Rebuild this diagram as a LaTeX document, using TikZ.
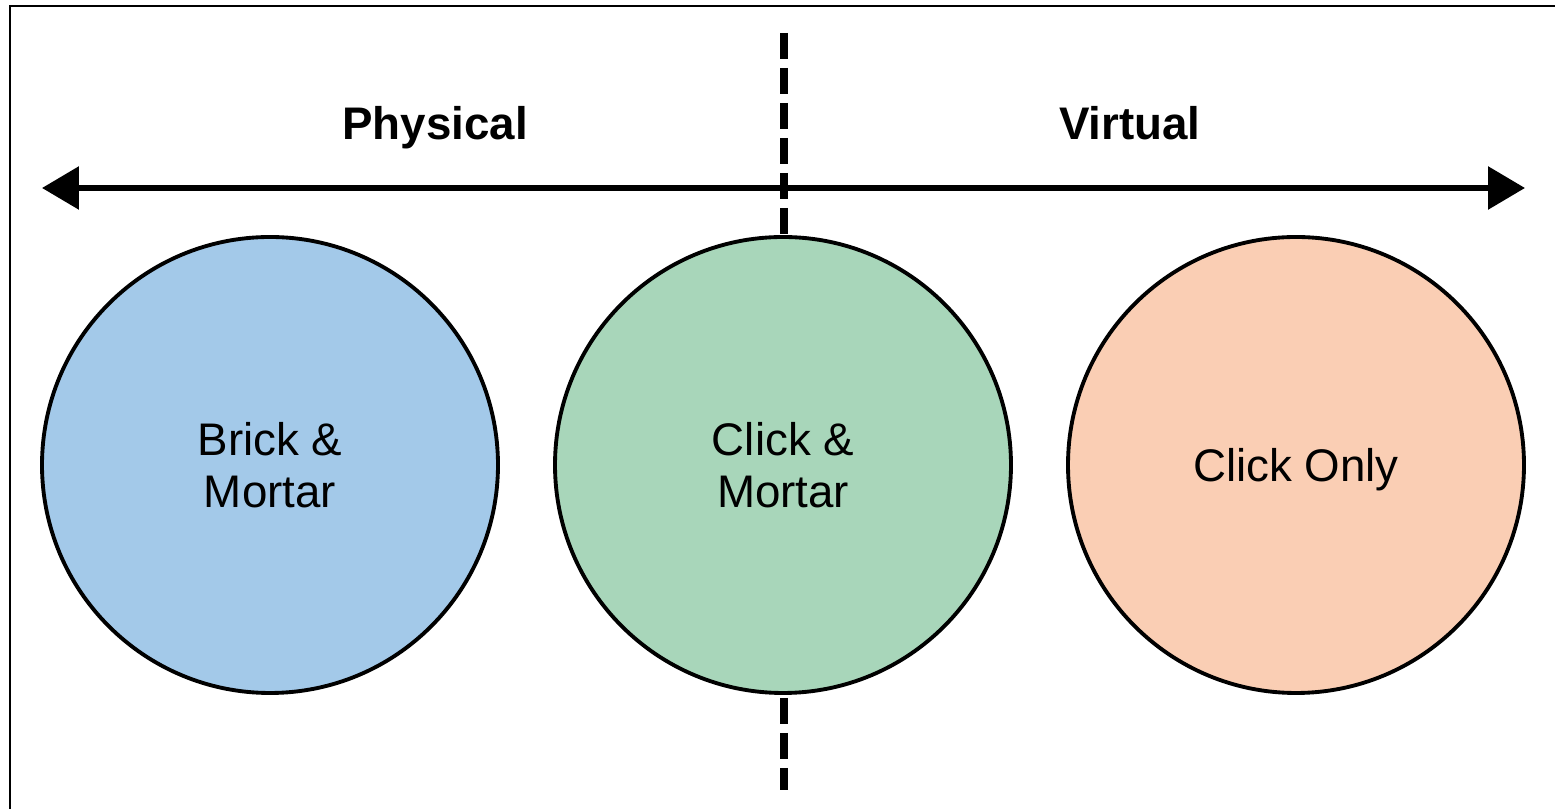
\documentclass[tikz,border=0pt]{standalone}
\usepackage{fontspec}
\setmainfont{Liberation Sans}
\usetikzlibrary{arrows.meta}
\definecolor{brickblue}{RGB}{163,201,233}
\definecolor{clickgreen}{RGB}{168,214,186}
\definecolor{onlypeach}{RGB}{250,206,180}
\tikzset{
  channel/.style={circle,draw,line width=1.1pt,minimum size=4.56cm,inner sep=0pt,
    align=center,text depth=0pt,font=\fontsize{13}{14.9}\selectfont},
  side/.style={anchor=base,font=\fontsize{13}{15}\selectfont\bfseries}
}

\begin{document}
\begin{tikzpicture}
\useasboundingbox
  (0,0) rectangle (15.55,-8.09);
\draw[line width=0.6pt]
  (0.10,-8.09) -- (0.10,-0.06) -- (15.55,-0.06);
\coordinate (L) at (0.42,-1.88);
\coordinate (R) at (15.25,-1.88);
\coordinate (top) at (7.84,-0.33);
\coordinate (bot) at (7.84,-7.90);
\draw[line width=2pt,dash pattern=on 0.26cm off 0.09cm]
  (top) -- (bot);
\draw[{Triangle[length=0.37cm,width=0.42cm]}-{Triangle[length=0.37cm,width=0.42cm]},line width=1.7pt]
  (L) -- (R);
\node[side] (phys) at (4.35,-1.40) {Physical};
\node[side] (virt) at (11.30,-1.40) {Virtual};
\node[channel,fill=brickblue] (brick) at (2.70,-4.65) {Brick \&\\Mortar};
\node[channel,fill=clickgreen] (click) at (7.83,-4.65) {Click \&\\Mortar};
\node[channel,fill=onlypeach] (only) at (12.96,-4.65) {Click Only};
\end{tikzpicture}
\end{document}
